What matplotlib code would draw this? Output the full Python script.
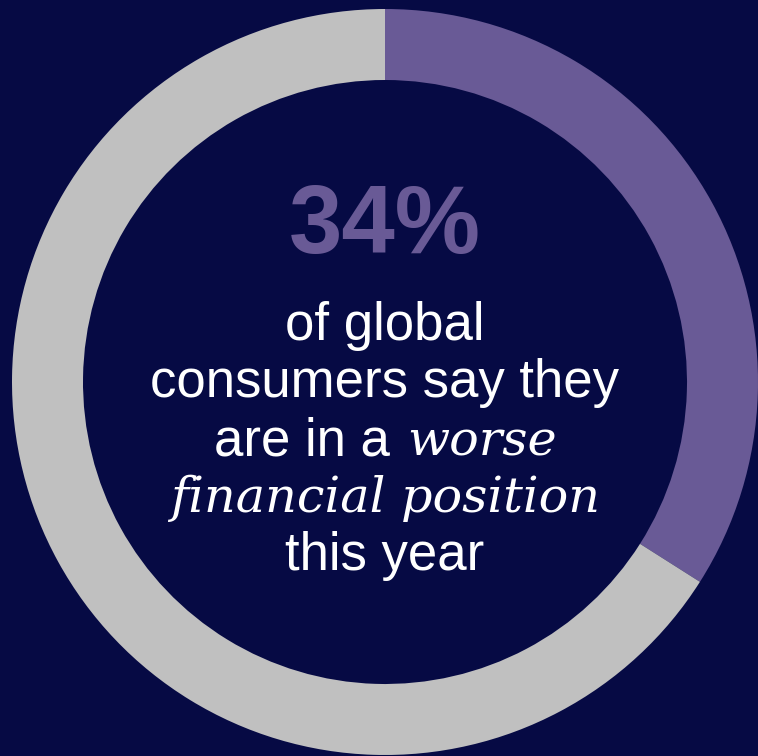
import matplotlib
matplotlib.use("Agg")
import matplotlib.pyplot as plt

# share of consumers worse off vs. the rest
shares = [34, 66]
share_colors = ["#695a96", "#c0c0c0"]
headline = "34%"
lines_before = ["of global", "consumers say they"]
mixed_plain = "are in a"
mixed_italic = "worse"
italic_line = "financial position"
last_line = "this year"

BG = "#060a44"
W, H = 758, 756

fig = plt.figure(figsize=(W / 100, H / 100), dpi=100, facecolor=BG)
ax = fig.add_axes([0, 0, 1, 1])
ax.set_facecolor(BG)

# donut ring, clockwise from 12 o'clock
ax.pie(shares, colors=share_colors, startangle=90, counterclock=False,
       radius=373, center=(385, H - 382),
       wedgeprops=dict(width=71, linewidth=0))
ax.set_xlim(0, W)
ax.set_ylim(0, H)
ax.set_aspect("equal")
ax.axis("off")

sans = "Liberation Sans"
serif = "DejaVu Serif"
fs = 38
fs_it = 35.5
cx = 385

ax.text(cx, H - 253, headline, ha="center", va="baseline", color=share_colors[0],
        fontsize=69, fontweight="bold", family=sans)

baselines = [340, 397, 455, 512, 570]
for txt, b in zip(lines_before, baselines[:2]):
    ax.text(cx, H - b, txt, ha="center", va="baseline", color="white",
            fontsize=fs, family=sans)

# "are in a worse": plain and italic parts laid side by side
fig.canvas.draw()
r = fig.canvas.get_renderer()
t1 = ax.text(0, H - baselines[2], mixed_plain, ha="left", va="baseline",
             color="white", fontsize=fs, family=sans)
t2 = ax.text(0, H - baselines[2], mixed_italic, ha="left", va="baseline",
             color="white", fontsize=fs_it, family=serif, style="italic")
w1 = t1.get_window_extent(r).width
w2 = t2.get_window_extent(r).width
gap = 0.33 * fs * 100 / 72
x0 = cx - (w1 + gap + w2) / 2
t1.set_x(x0)
t2.set_x(x0 + w1 + gap)

ax.text(cx, H - baselines[3], italic_line, ha="center", va="baseline",
        color="white", fontsize=fs_it, family=serif, style="italic")
ax.text(cx, H - baselines[4], last_line, ha="center", va="baseline",
        color="white", fontsize=fs, family=sans)

fig.savefig("out.png", dpi=100, facecolor=BG)
